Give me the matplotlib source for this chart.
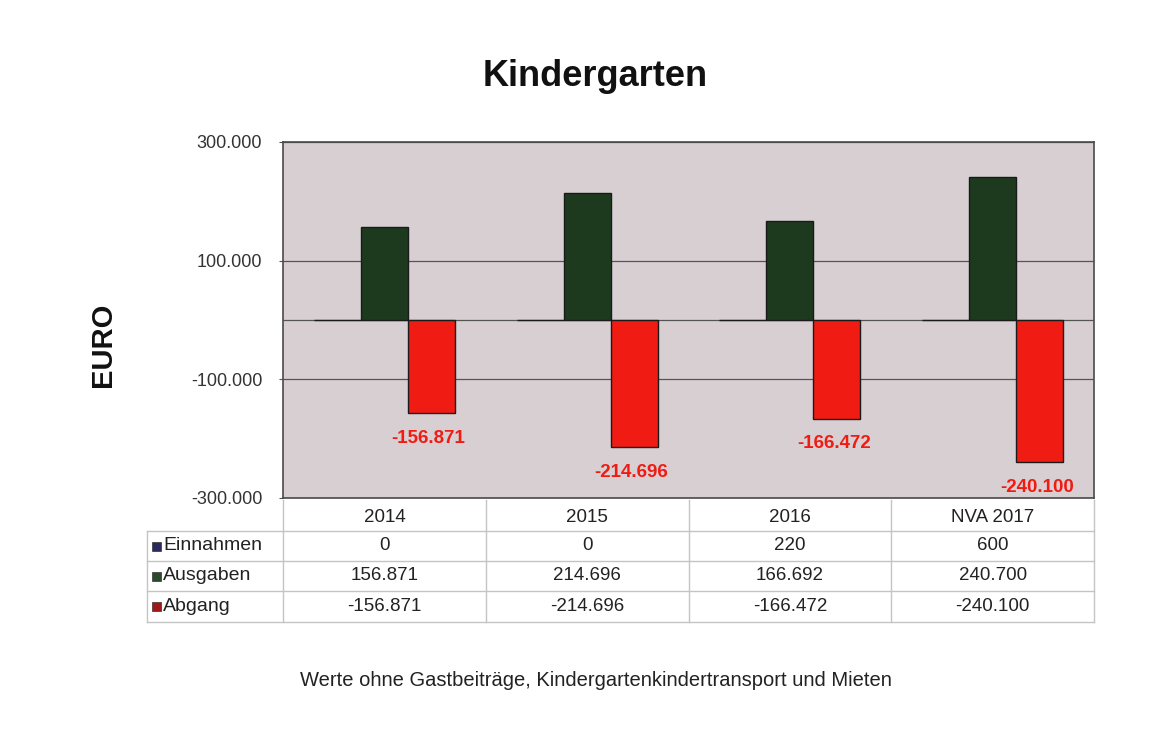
import matplotlib
matplotlib.use("Agg")
import matplotlib.pyplot as plt
from matplotlib.lines import Line2D
from matplotlib.patches import Rectangle
import numpy as np

plt.rcParams['font.family'] = ['Liberation Sans', 'DejaVu Sans']

categories = ["2014", "2015", "2016", "NVA 2017"]
series_names = ["Einnahmen", "Ausgaben", "Abgang"]
einnahmen = [0, 0, 220, 600]
ausgaben = [156871, 214696, 166692, 240700]
abgang = [-156871, -214696, -166472, -240100]
yticks = [-300000, -100000, 100000, 300000]

title = "Kindergarten"
ylabel = "EURO"
footnote = "Werte ohne Gastbeiträge, Kindergartenkindertransport und Mieten"

bar_colors = ["#2a2a5e", "#1d3a1f", "#f01c14"]
legend_colors = ["#2a2a5e", "#2c4a2c", "#a01818"]

def fmt(v):
    return f"{v:,.0f}".replace(",", ".")

W, H = 1153, 729
fig = plt.figure(figsize=(W / 100, H / 100), dpi=100)
fig.patch.set_facecolor("white")

L, R, T, B = 283, 1094, 142, 498
ax = fig.add_axes([L / W, 1 - B / H, (R - L) / W, (B - T) / H])
ax.set_facecolor("#d8cfd3")

x = np.arange(len(categories))
w = 0.232
data = [einnahmen, ausgaben, abgang]
for i, vals in enumerate(data):
    ax.bar(x + (i - 1) * w, vals, width=w, color=bar_colors[i],
           edgecolor="#1a1a1a", linewidth=1.0, zorder=3)

for xi, v in zip(x, abgang):
    ax.annotate(fmt(v), (xi + w, v), xytext=(-2, -18), textcoords="offset points",
                ha="center", va="center", color="#f01c14", fontsize=13.5,
                fontweight="bold", zorder=4)

ax.set_xlim(-0.5, len(categories) - 0.5)
ax.set_ylim(-300000, 300000)
ax.set_yticks(yticks)
ax.set_yticklabels([fmt(v) for v in yticks], fontsize=13, color="#333333")
for yv in yticks + [0]:
    ax.axhline(yv, color="#555555", linewidth=0.9, zorder=1)
ax.set_xticks([])
ax.tick_params(axis="y", length=3, color="#555555", pad=12)
for s in ax.spines.values():
    s.set_color("#4a4a4a")
    s.set_linewidth(1.2)

fig.text(595 / W, 1 - 77 / H, title, ha="center", va="center",
         fontsize=26, fontweight="bold", color="#111111")
fig.text(103 / W, 1 - 345 / H, ylabel, ha="center", va="center",
         rotation=90, fontsize=21, fontweight="bold", color="#111111")
fig.text(596 / W, 1 - 680 / H, footnote, ha="center", va="center",
         fontsize=14.5, color="#222222")

# data table
lc = "#c4c4c4"
tl = 147
rows_y = [500, 531, 561, 591, 622]
col_w = (R - L) / len(categories)

def fx(px):
    return px / W

def fy(py):
    return 1 - py / H

def hline(y, x0, x1):
    fig.add_artist(Line2D([fx(x0), fx(x1)], [fy(y), fy(y)], color=lc, linewidth=1.0))

def vline(xp, y0, y1):
    fig.add_artist(Line2D([fx(xp), fx(xp)], [fy(y0), fy(y1)], color=lc, linewidth=1.0))

for yv in rows_y[1:]:
    hline(yv, tl, R)
vline(tl, rows_y[1], rows_y[-1])
for j in range(len(categories) + 1):
    vline(L + j * col_w, rows_y[0], rows_y[-1])

for j, c in enumerate(categories):
    fig.text(fx(L + (j + 0.5) * col_w), fy((rows_y[0] + rows_y[1]) / 2 + 2), c,
             ha="center", va="center", fontsize=13.5, color="#222222")

for i, (name, vals) in enumerate(zip(series_names, data)):
    yc = (rows_y[i + 1] + rows_y[i + 2]) / 2
    fig.add_artist(Rectangle((fx(tl + 5), fy(yc + 4.5)), 9 / W, 9 / H,
                             facecolor=legend_colors[i], edgecolor="#333333",
                             linewidth=0.5, transform=fig.transFigure))
    fig.text(fx(tl + 16), fy(yc), name, ha="left", va="center",
             fontsize=14, color="#222222")
    for j, v in enumerate(vals):
        fig.text(fx(L + (j + 0.5) * col_w), fy(yc), fmt(v), ha="center",
                 va="center", fontsize=13.5, color="#222222")

fig.savefig("out.png", dpi=100)
